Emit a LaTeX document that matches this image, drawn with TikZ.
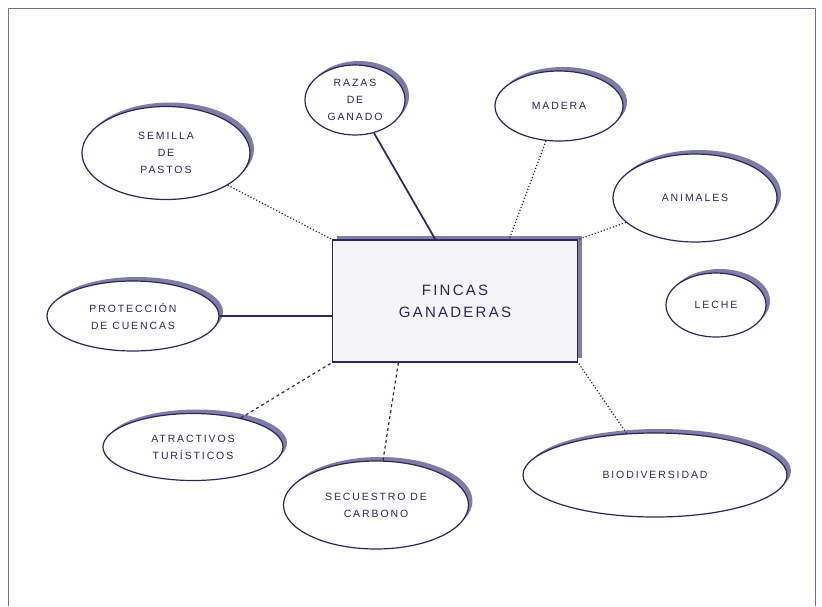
\documentclass[tikz,border=0pt]{standalone}
\usepackage{fontspec}
\newfontfamily\bubblefont[LetterSpace=18]{Liberation Sans}
\newfontfamily\fincafont[LetterSpace=15]{Liberation Sans}
\usetikzlibrary{shapes.geometric,shadows,calc}
\definecolor{navy}{RGB}{40,40,90}
\definecolor{shadowblue}{RGB}{125,125,165}
\definecolor{framegray}{RGB}{110,110,145}
\definecolor{boxfill}{RGB}{245,245,248}
\tikzset{
	shade/.style={drop shadow={shadow xshift=4pt,shadow yshift=4pt,fill=shadowblue,opacity=1}},
	bubble/.style={ellipse,draw=navy,line width=1.2pt,fill=white,shade,inner sep=0pt,align=center,text=navy,font={\bubblefont\fontsize{10.5}{17}\selectfont}},
	finca/.style={rectangle,draw=navy,line width=1.2pt,fill=boxfill,shade,align=center,text=navy,minimum width=245pt,minimum height=122pt,font={\fincafont\fontsize{15}{22}\selectfont}},
	link/.style={draw=navy,line width=1.2pt},
	strong/.style={link,line width=1.7pt}
}

\begin{document}
\begin{tikzpicture}[x=1pt,y=-1pt]
			\useasboundingbox (0,0) rectangle (822,606);
			\draw[framegray,line width=1pt] (8,606) |- (815,8) -- (815,606);

			\node[finca] (fincas) at (455,301) {FINCAS\\GANADERAS};
			\node[bubble,minimum width=100pt,minimum height=70pt] (razas) at (355,100) {RAZAS\\DE\\GANADO};
			\node[bubble,minimum width=128pt,minimum height=70pt] (madera) at (559,106) {MADERA};
			\node[bubble,minimum width=168pt,minimum height=93pt] (semilla) at (166,153) {SEMILLA\\DE\\PASTOS};
			\node[bubble,minimum width=164pt,minimum height=88pt] (animales) at (695,198) {ANIMALES};
			\node[bubble,minimum width=172pt,minimum height=70pt] (proteccion) at (133,316) {PROTECCIÓN\\DE CUENCAS};
			\node[bubble,minimum width=100pt,minimum height=64pt] (leche) at (716,305) {LECHE};
			\node[bubble,minimum width=180pt,minimum height=67pt] (atractivos) at (193,447) {ATRACTIVOS\\TURÍSTICOS};
			\node[bubble,minimum width=185pt,minimum height=88pt] (secuestro) at (376,505) {SECUESTRO DE\\CARBONO};
			\node[bubble,minimum width=264pt,minimum height=84pt] (biodiv) at (655,475) {BIODIVERSIDAD};

			\draw[link,dotted] (semilla) -- (fincas.north west);
			\draw[strong] (razas) -- ($(fincas.north west)!.42!(fincas.north east)$);
			\draw[link,dotted] (madera) -- ($(fincas.north west)!.72!(fincas.north east)$);
			\draw[link,dotted] (animales) -- (fincas.north east);
			\draw[strong] (proteccion.east) -- (fincas.west |- proteccion.east);
			\draw[link,dashed] (atractivos) -- (fincas.south west);
			\draw[link,dashed] (secuestro) -- ($(fincas.south west)!.27!(fincas.south east)$);
			\draw[link,dotted] (biodiv) -- (fincas.south east);
		\end{tikzpicture}
\end{document}
